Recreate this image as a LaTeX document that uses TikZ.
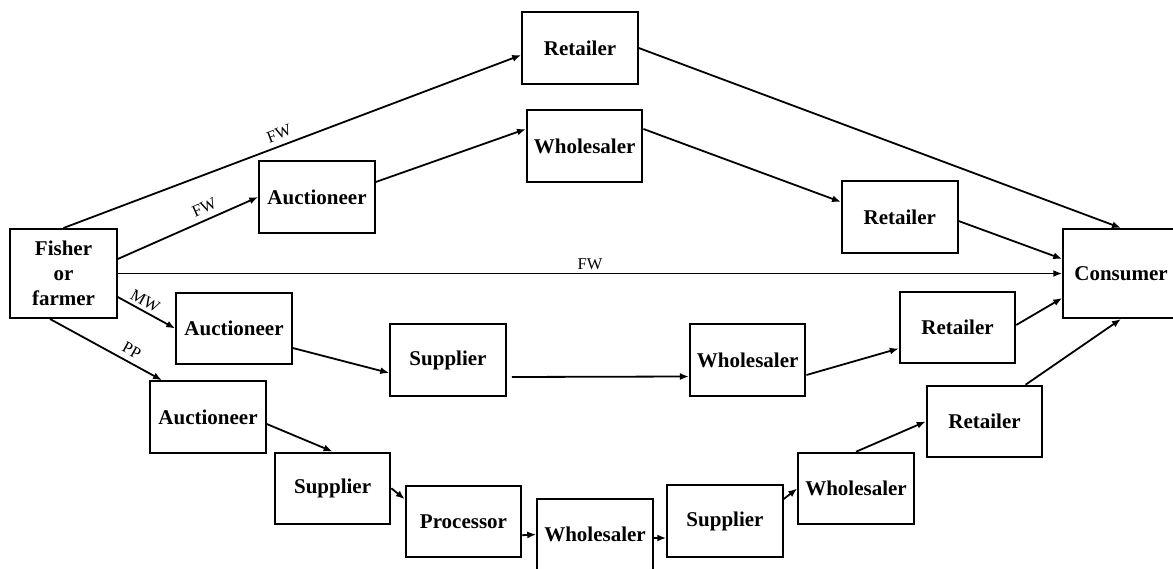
\documentclass[tikz,border=0pt]{standalone}
\usepackage{fontspec}
\setmainfont{Liberation Serif}
\usetikzlibrary{arrows.meta}

\begin{document}
\begin{tikzpicture}[x=1pt,y=-1pt,line width=1.8pt,
    box/.style={draw,line width=2pt,minimum width=115.5pt,minimum height=71.5pt,inner sep=0pt,
      align=center,font=\bfseries\fontsize{21}{25}\selectfont},
    lbl/.style={font=\fontsize{16.5}{18}\selectfont,inner sep=5.5pt},
    flow/.style={-{Latex[length=9pt,width=7pt]}}]
  \useasboundingbox (0,0) rectangle (1173,569);
  % end points of the chains
  \node[box,minimum width=106.5pt,minimum height=89pt] (fisher) at (63.5,273.5) {Fisher\\or\\farmer};
  \node[box,minimum height=89pt] (consumer) at (1121,273.5) {Consumer};
  % FW routes
  \node[box] (rettop) at (580,48) {Retailer};
  \node[box] (auc1) at (317,197) {Auctioneer};
  \node[box] (whtop) at (584.7,146) {Wholesaler};
  \node[box] (retmid) at (899.8,217) {Retailer};
  % MW route
  \node[box] (aucmw) at (234,328.5) {Auctioneer};
  \node[box] (supmw) at (448,360) {Supplier};
  \node[box] (whmw) at (747.7,360) {Wholesaler};
  \node[box] (retmw) at (957.5,327.5) {Retailer};
  % PP route
  \node[box] (aucpp) at (208,417) {Auctioneer};
  \node[box] (suppp) at (332.6,488.3) {Supplier};
  \node[box] (proc) at (463.5,521.7) {Processor};
  \node[box] (whlow) at (595,534.5) {Wholesaler};
  \node[box] (sup2) at (725,521) {Supplier};
  \node[box] (wh2) at (856,488.5) {Wholesaler};
  \node[box] (retpp) at (984.5,421.5) {Retailer};

  \draw[flow] (fisher.north) -- node[lbl,sloped,above,pos=0.48] {FW} ([yshift=-7pt]rettop.west);
  \draw[flow] ([yshift=14.5pt]fisher.east) -- node[lbl,sloped,above,pos=0.65] {FW} (auc1.west);
  \draw[flow] (fisher.east) -- node[lbl,above,pos=0.5,inner sep=3pt] {FW} (consumer.west);
  \draw[flow] ([yshift=-23.5pt]fisher.east) -- node[lbl,sloped,above,pos=0.4,inner sep=3pt] {MW} (aucmw.west);
  \draw[flow] ([xshift=-13.5pt]fisher.south) -- node[lbl,sloped,above,pos=0.68] {PP} ([xshift=-46pt]aucpp.north);

  \draw[flow] ([yshift=15pt]auc1.east) -- ([yshift=17pt]whtop.west);
  \draw[flow] ([yshift=17pt]whtop.east) -- ([yshift=15pt]retmid.west);
  \draw[flow] (rettop.east) -- (consumer.north);
  \draw[flow] ([yshift=-4pt]retmid.east) -- ([yshift=14.5pt]consumer.west);

  \draw[flow] ([yshift=-19.5pt]aucmw.east) -- ([yshift=-13pt]supmw.west);
  \draw[flow] ([xshift=5pt,yshift=-17pt]supmw.east) -- ([yshift=-16.5pt]whmw.west);
  \draw[flow] ([yshift=-15pt]whmw.east) -- ([yshift=-21pt]retmw.west);
  \draw[flow] ([yshift=2.5pt]retmw.east) -- ([yshift=-24.5pt]consumer.west);

  \draw[flow] ([yshift=-7pt]aucpp.east) -- (suppp.north);
  \draw[flow] (suppp.east) -- ([yshift=22.5pt]proc.west);
  \draw[flow] ([yshift=-13.5pt]proc.east) -- (whlow.west);
  \draw[flow] ([yshift=-3.5pt]whlow.east) -- ([yshift=-17pt]sup2.west);
  \draw[flow] ([yshift=22pt]sup2.east) -- (wh2.west);
  \draw[flow] (wh2.north) -- (retpp.west);
  \draw[flow] ([xshift=41pt]retpp.north) -- (consumer.south);
\end{tikzpicture}
\end{document}
